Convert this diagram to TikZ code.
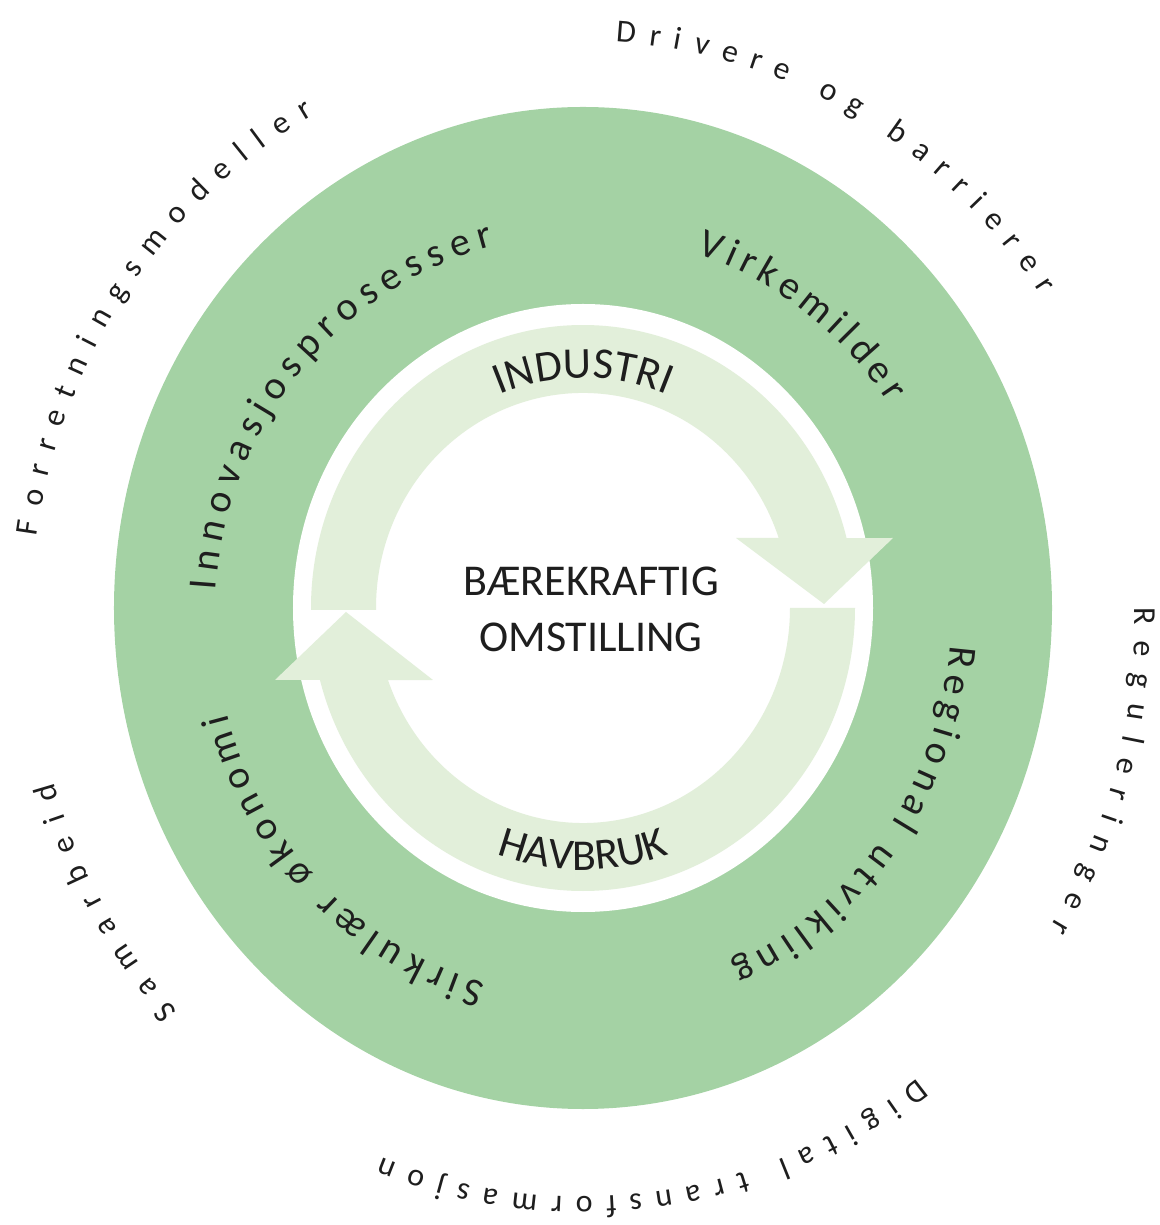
\documentclass[tikz,border=0pt]{standalone}
\usepackage{fontspec}
\setmainfont{Carlito}
\usepackage{xcolor}
\usepackage{tikz}
\usetikzlibrary{decorations.text}

\definecolor{ringgreen}{RGB}{164,210,164}
\definecolor{arrowgreen}{RGB}{226,239,218}
\definecolor{txtgray}{RGB}{30,30,30}

\tikzset{
  outer text/.style={decorate,decoration={text along path,text align=fit to path,text color=txtgray,
    text={|\fontsize{16}{19}\selectfont|#1}}},
  ring text/.style={decorate,decoration={text along path,text align=fit to path,text color=txtgray,
    text={|\fontsize{20}{24}\selectfont|#1}}},
  arrow text/.style={decorate,decoration={text along path,text align=center,text color=txtgray,
    text={|\fontsize{22}{26}\selectfont|#1}}},
}

\begin{document}
\begin{tikzpicture}[x=0.5pt,y=0.5pt]
%uncomment if require: \path (-583,-617); %set diagram left start at 0
\useasboundingbox (-583,-617) rectangle (577,608);

%Shape: Ellipse [id:outer ring]
\fill [ringgreen] (0,0) ellipse [x radius=469, y radius=501];
%Shape: Ellipse [id:hole]
\fill [white] (0,0) ellipse [x radius=290, y radius=304];
%Shape: Arc arrow [id:upper arrow]
\fill [arrowgreen] (180.4:272 and 283) arc [start angle=180.4, end angle=14.3, x radius=272, y radius=283] -- (310,70) -- (241,4) -- (153,70) -- (19:207 and 215) arc [start angle=19, end angle=180.5, x radius=207, y radius=215] -- cycle;
%Shape: Arc arrow [id:lower arrow]
\fill [arrowgreen] (0:272 and 283) arc [start angle=0, end angle=-165.3, x radius=272, y radius=283] -- (-308,-72) -- (-237,-4) -- (-150,-72) -- (-160.4:207 and 215) arc [start angle=-160.4, end angle=0, x radius=207, y radius=215] -- cycle;

% Text Node
\node (baerekraftig) [anchor=base, text=txtgray, font=\fontsize{22}{26}\selectfont] at (8,12.5) {BÆREKRAFTIG};
% Text Node
\node (omstilling) [anchor=base, text=txtgray, font=\fontsize{22}{26}\selectfont] at (8,-44) {OMSTILLING};

% Arc Text
\path [arrow text=INDUSTRI] (125:222 and 230) arc [start angle=125, end angle=55, x radius=222, y radius=230];
% Arc Text
\path [arrow text=HAVBRUK] (-125:255 and 262) arc [start angle=-125, end angle=-55, x radius=255, y radius=262];

\begin{scope}[shift={(0,-8)}]
% Arc Text
\path [ring text=Innovasjosprosesser] (176.2:368 and 381) arc [start angle=176.2, end angle=104, x radius=368, y radius=381];
% Arc Text
\path [ring text=Virkemilder] (72:368 and 381) arc [start angle=72, end angle=34, x radius=368, y radius=381];
% Arc Text
\path [ring text=Regional utvikling] (-4.4:368 and 381) arc [start angle=-4.4, end angle=-66.2, x radius=368, y radius=381];
% Arc Text
\path [ring text=Sirkulær økonomi] (-105.4:368 and 381) arc [start angle=-105.4, end angle=-165.2, x radius=368, y radius=381];
\end{scope}

\begin{scope}[shift={(0,-11)}]
% Arc Text
\path [outer text=Forretningsmodeller] (171.8:552 and 578) arc [start angle=171.8, end angle=119.2, x radius=552, y radius=578];
% Arc Text
\path [outer text=Drivere og barrierer] (86.6:552 and 578) arc [start angle=86.6, end angle=34.1, x radius=552, y radius=578];
% Arc Text
\path [outer text=Reguleringer] (1.1:552 and 578) arc [start angle=1.1, end angle=-32.3, x radius=552, y radius=578];
% Arc Text
\path [outer text=Digital transformasjon] (-52.7:552 and 578) arc [start angle=-52.7, end angle=-111.3, x radius=552, y radius=578];
% Arc Text
\path [outer text=Samarbeid] (-137.2:552 and 578) arc [start angle=-137.2, end angle=-163.6, x radius=552, y radius=578];
\end{scope}

\end{tikzpicture}
\end{document}
